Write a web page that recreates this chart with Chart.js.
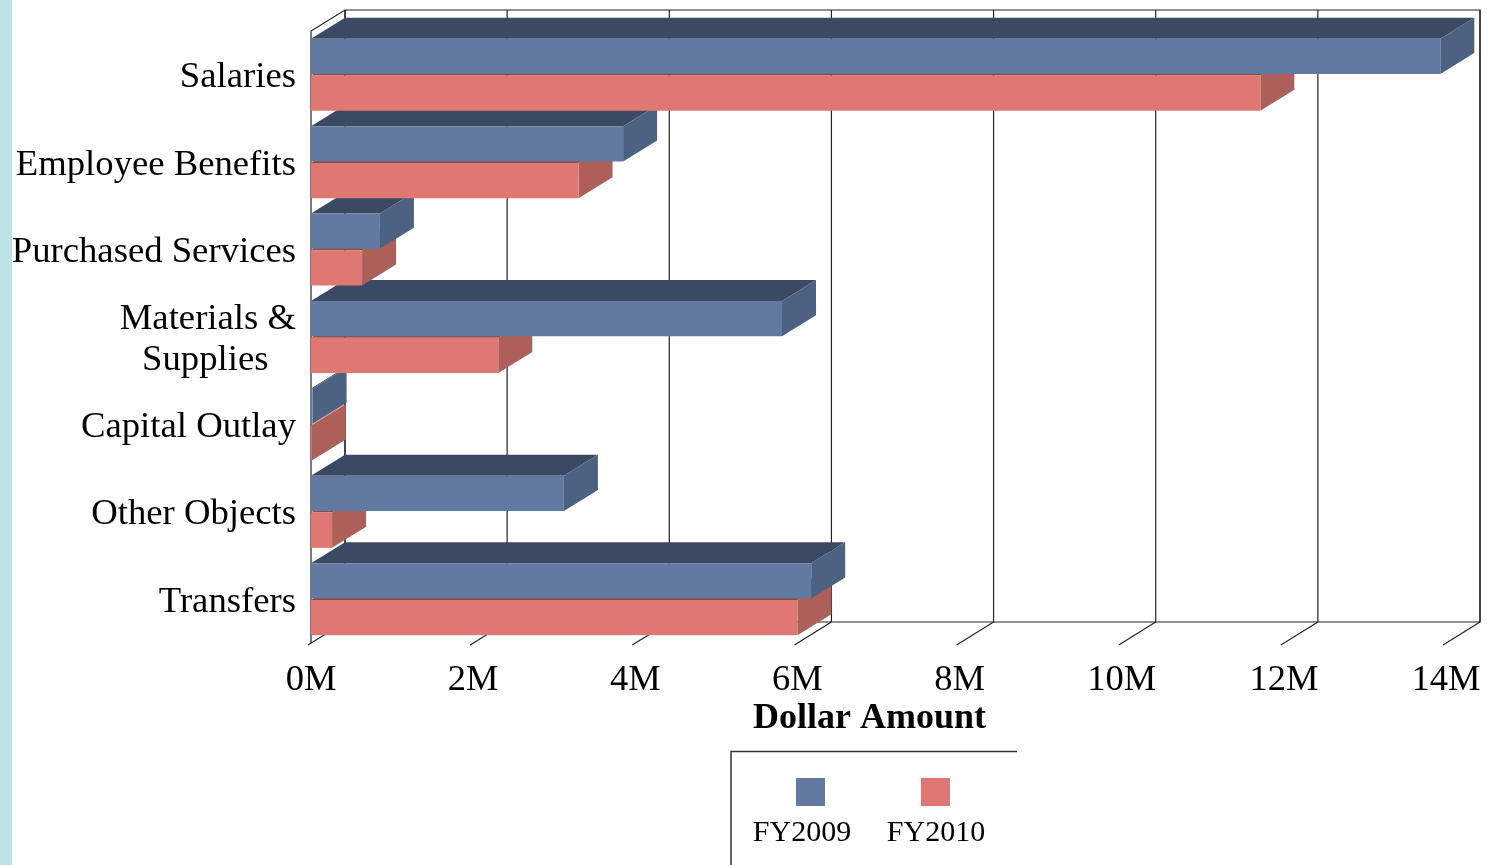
<!DOCTYPE html>
<html>
<head>
<meta charset="utf-8">
<script src="https://cdn.jsdelivr.net/npm/chart.js@4.4.1/dist/chart.umd.min.js"></script>
<style>
  html, body { margin: 0; padding: 0; background: #fff; }
  #wrap { width: 1489px; height: 865px; }
</style>
</head>
<body>
<div id="wrap"><canvas id="chart" width="1489" height="865"></canvas></div>
<script>
// values in millions of dollars
const categories = ['Salaries', 'Employee Benefits', 'Purchased Services', ['Materials &', 'Supplies   '], 'Capital Outlay', 'Other Objects', 'Transfers'];
const fy2009 = [13.93, 3.85, 0.85, 5.81, 0.02, 3.12, 6.17];
const fy2010 = [11.71, 3.30, 0.63, 2.31, 0.01, 0.26, 6.00];
const seriesNames = ['FY2009', 'FY2010'];

const DX = 34, DY = 21;
const fontName = "'Liberation Serif', 'Times New Roman', serif";
const faces = [
  { front: '#627aa2', top: '#3b4a62', side: '#4d6283' },
  { front: '#df7873', top: '#8a4846', side: '#ae5f5a' }
];

const threeD = {
  id: 'threeD',
  beforeDraw(chart) {
    const ctx = chart.ctx;
    ctx.save();
    ctx.fillStyle = '#fff';
    ctx.fillRect(0, 0, chart.width, chart.height);
    ctx.fillStyle = '#bce2e5';
    ctx.fillRect(0, 0, 12, chart.height);
    ctx.restore();
  },
  beforeDatasetsDraw(chart) {
    const ctx = chart.ctx;
    const a = chart.chartArea;
    const xs = chart.scales.x;
    ctx.save();
    // walls
    ctx.strokeStyle = '#222';
    ctx.lineWidth = 1.2;
    ctx.beginPath();
    ctx.moveTo(a.left, a.bottom); ctx.lineTo(a.left, a.top);
    ctx.lineTo(a.left + DX, a.top - DY);
    ctx.lineTo(a.right + DX, a.top - DY);
    ctx.lineTo(a.right + DX, a.bottom - DY);
    ctx.lineTo(a.left + DX, a.bottom - DY);
    ctx.lineTo(a.left + DX, a.top - DY);
    ctx.stroke();
    xs.ticks.forEach(t => {
      const px = xs.getPixelForValue(t.value);
      ctx.beginPath();
      ctx.moveTo(px + DX, a.top - DY);
      ctx.lineTo(px + DX, a.bottom - DY);
      ctx.stroke();
      ctx.beginPath();
      ctx.moveTo(px + DX, a.bottom - DY);
      ctx.lineTo(px - 3, a.bottom + 2);
      ctx.stroke();
    });
    // top and side faces, bottom category first, FY2010 before FY2009
    const metas = [chart.getDatasetMeta(0), chart.getDatasetMeta(1)];
    for (let i = categories.length - 1; i >= 0; i--) {
      for (let d = 1; d >= 0; d--) {
        const el = metas[d].data[i];
        const p = el.getProps(['x', 'y', 'base', 'height'], true);
        const l = Math.min(p.base, p.x), r = Math.max(p.base, p.x);
        const t = p.y - p.height / 2, b = p.y + p.height / 2;
        ctx.fillStyle = faces[d].top;
        ctx.beginPath();
        ctx.moveTo(l, t); ctx.lineTo(l + DX, t - DY);
        ctx.lineTo(r + DX, t - DY); ctx.lineTo(r, t);
        ctx.closePath(); ctx.fill();
        ctx.fillStyle = faces[d].side;
        ctx.beginPath();
        ctx.moveTo(r, t); ctx.lineTo(r + DX, t - DY);
        ctx.lineTo(r + DX, b - DY); ctx.lineTo(r, b);
        ctx.closePath(); ctx.fill();
      }
    }
    ctx.restore();
  },
  afterDraw(chart) {
    const ctx = chart.ctx;
    ctx.save();
    ctx.strokeStyle = '#333';
    ctx.lineWidth = 1.5;
    ctx.beginPath();
    ctx.moveTo(731, 865); ctx.lineTo(731, 751.5); ctx.lineTo(1017, 751.5);
    ctx.stroke();
    const boxX = [796, 921], textX = [802, 936];
    ctx.font = '30px ' + fontName;
    ctx.textAlign = 'center';
    ctx.textBaseline = 'middle';
    chart.data.datasets.forEach((ds, i) => {
      ctx.fillStyle = ds.backgroundColor;
      ctx.fillRect(boxX[i], 778, 29, 28);
      ctx.fillStyle = '#000';
      ctx.fillText(ds.label, textX[i], 833);
    });
    ctx.restore();
  }
};

new Chart(document.getElementById('chart'), {
  type: 'bar',
  data: {
    labels: categories,
    datasets: [
      { label: seriesNames[0], data: fy2009, backgroundColor: faces[0].front, borderWidth: 0 },
      { label: seriesNames[1], data: fy2010, backgroundColor: faces[1].front, borderWidth: 0 }
    ]
  },
  plugins: [threeD],
  options: {
    indexAxis: 'y',
    responsive: false,
    animation: false,
    categoryPercentage: 0.84,
    barPercentage: 0.96,
    layout: { padding: { left: 0, top: 31, right: 43, bottom: 122 } },
    plugins: { legend: { display: false }, tooltip: { enabled: false } },
    scales: {
      x: {
        min: 0, max: 14,
        grid: { display: false, drawTicks: false },
        border: { display: false },
        ticks: {
          stepSize: 2,
          padding: 16,
          color: '#000',
          font: { family: fontName, size: 36.5 },
          callback: v => v + 'M'
        },
        title: {
          display: true,
          text: 'Dollar Amount  ',
          color: '#000',
          font: { family: fontName, size: 36, weight: 'bold' },
          padding: { top: 0, bottom: 3 }
        },
        afterFit: s => { s.height = 100; s.paddingLeft = 0; s.paddingRight = 0; }
      },
      y: {
        grid: { display: false, drawTicks: false },
        border: { display: false },
        ticks: {
          padding: 15,
          labelOffset: 3,
          color: '#000',
          font: { family: fontName, size: 36.7, lineHeight: 1.12 }
        },
        afterFit: s => { s.width = 311; s.paddingTop = 0; s.paddingBottom = 0; }
      }
    }
  }
});
</script>
</body>
</html>
